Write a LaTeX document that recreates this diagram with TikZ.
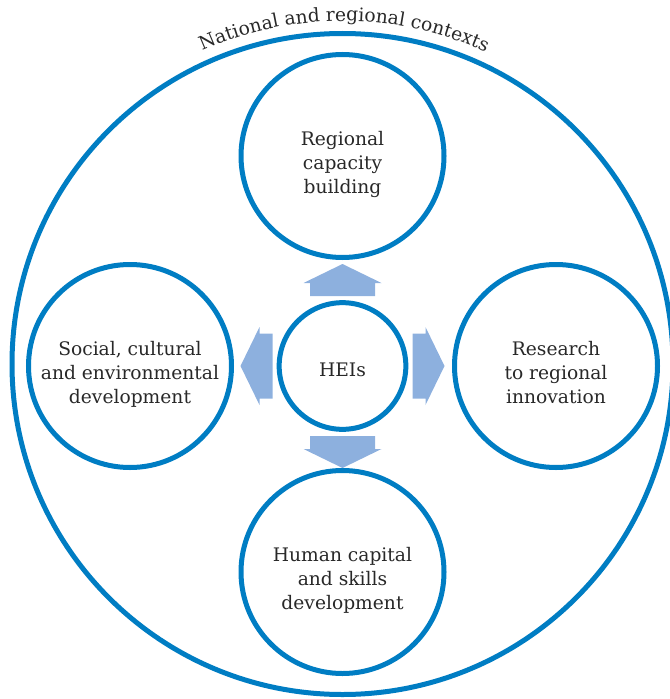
\documentclass[tikz,border=0pt]{standalone}
\usepackage{fontspec}
\setmainfont{DejaVu Serif}
\usepackage{xcolor}
\usetikzlibrary{calc, positioning, decorations.text}
\definecolor{ringblue}{RGB}{0,125,195}
\definecolor{arrowblue}{RGB}{141,176,222}
\definecolor{txtgray}{RGB}{40,40,40}
\newcommand{\diagfont}{\fontsize{14}{18}\selectfont}

\begin{document}
\begin{tikzpicture}[x=0.75pt, y=0.75pt,
    ring/.style={circle, draw=ringblue, line width=3.75pt, minimum size=152.25pt, inner sep=0pt},
    txt/.style={align=center, font=\diagfont, text=txtgray, text depth=0pt, inner sep=0pt}]
  \useasboundingbox (0,0) rectangle (670,-699);

  % outer context and the core
  \node[ring, minimum size=495.75pt] (ctx) at (342.5,-364) {};
  \node[ring, minimum size=95pt] (hei) at (342.5,-366) {};

  % the four missions
  \node[ring] (cap) at ($(hei)+(0,210)$) {};
  \node[ring] (res) at ($(hei)+(213.5,0)$) {};
  \node[ring] (hum) at ($(hei)+(0,-206)$) {};
  \node[ring] (soc) at ($(hei)+(-212.5,0)$) {};

  % block arrows out of the core
  \foreach \ang in {0,90,180,270}
    \fill[arrowblue, shift={(hei.center)}, rotate=\ang]
      (70,-32.5) -- (83,-32.5) -- (83,-39) -- (102,0) -- (83,39) -- (83,32.5) -- (70,32.5) -- cycle;

  \node[txt] (heitxt) at ([yshift=-2.5pt]hei.center) {HEIs};
  \node[txt] (captxt) at ([yshift=-4.5pt]cap.center) {Regional\\capacity\\building};
  \node[txt] (restxt) at ([yshift=-4.5pt]res.center) {Research\\to regional\\innovation};
  \node[txt] (humtxt) at ([yshift=-4.5pt]hum.center) {Human capital\\and skills\\development};
  \node[txt] (soctxt) at ([yshift=-4.5pt]soc.center) {Social, cultural\\and environmental\\development};

  \path[decorate, decoration={text along path, text align=center, text color=txtgray,
      text={|\diagfont|National and regional contexts}}]
    ($(ctx.center)+(114.6:343)$) arc[start angle=114.6, end angle=64.9, radius=343];
\end{tikzpicture}
\end{document}
